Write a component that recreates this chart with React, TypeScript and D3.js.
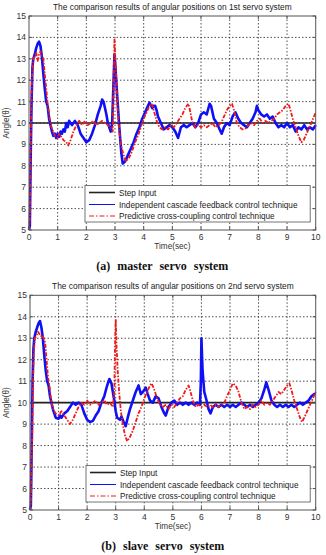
import React from "react";
import * as d3 from "d3";

// time (sec), angle pairs for each response curve
const masterBlue: number[][] = [
  [0, 5.0], [0.03, 5.2], [0.06, 8.5], [0.09, 11.0], [0.12, 12.6], [0.15, 13.0], [0.2, 13.2], [0.25, 13.5],
  [0.3, 13.7], [0.35, 13.8], [0.4, 13.6], [0.45, 13.1], [0.5, 12.3], [0.55, 11.6], [0.6, 11.0], [0.65, 10.8],
  [0.7, 10.2], [0.75, 9.9], [0.8, 9.6], [0.85, 9.4], [0.9, 9.5], [0.95, 9.3], [1.0, 9.5], [1.05, 9.35],
  [1.1, 9.6], [1.15, 9.5], [1.2, 9.7], [1.25, 9.6], [1.3, 10.0], [1.35, 9.8], [1.4, 10.1], [1.5, 9.9],
  [1.6, 10.1], [1.7, 9.9], [1.75, 9.7], [1.8, 9.5], [1.9, 9.3], [2.0, 9.1], [2.1, 9.2], [2.2, 9.5],
  [2.3, 9.9], [2.4, 10.4], [2.5, 10.8], [2.55, 11.1], [2.6, 11.0], [2.65, 10.7], [2.7, 10.4], [2.75, 10.0],
  [2.8, 9.8], [2.85, 9.6], [2.9, 10.0], [2.95, 12.0], [2.98, 13.2], [3.02, 12.5], [3.08, 11.2], [3.15, 9.8],
  [3.22, 8.6], [3.27, 8.1], [3.35, 8.2], [3.45, 8.5], [3.55, 8.8], [3.65, 9.1], [3.75, 9.5], [3.85, 9.8],
  [3.95, 10.2], [4.05, 10.5], [4.15, 10.8], [4.2, 10.95], [4.3, 10.7], [4.35, 10.8], [4.4, 10.8], [4.45, 10.6],
  [4.5, 10.3], [4.6, 10.0], [4.7, 9.7], [4.8, 9.8], [4.9, 9.9], [5.0, 9.8], [5.1, 9.6], [5.2, 9.3],
  [5.3, 9.8], [5.4, 9.9], [5.5, 9.8], [5.6, 9.9], [5.7, 10.0], [5.8, 9.8], [5.9, 10.0], [6.0, 10.4],
  [6.1, 10.5], [6.2, 10.4], [6.3, 10.9], [6.35, 10.8], [6.45, 10.2], [6.55, 10.0], [6.65, 9.7], [6.72, 9.5],
  [6.8, 9.8], [6.9, 10.0], [7.0, 9.9], [7.1, 10.3], [7.2, 10.5], [7.3, 10.2], [7.4, 10.0], [7.5, 9.9],
  [7.6, 9.8], [7.7, 10.0], [7.8, 10.2], [7.9, 10.5], [7.95, 10.8], [8.0, 10.6], [8.1, 10.4], [8.2, 10.3],
  [8.3, 10.4], [8.4, 10.2], [8.5, 10.3], [8.6, 10.0], [8.7, 9.8], [8.8, 9.9], [8.9, 9.8], [9.0, 10.0],
  [9.1, 9.8], [9.2, 9.9], [9.3, 9.6], [9.4, 9.8], [9.5, 9.7], [9.6, 9.9], [9.7, 9.7], [9.8, 9.8],
  [9.9, 9.7], [10.0, 9.9],
];

const masterRed: number[][] = [
  [0, 5.0], [0.03, 5.5], [0.06, 9.0], [0.1, 12.0], [0.15, 13.0], [0.2, 13.1], [0.25, 13.3], [0.3, 12.9],
  [0.35, 13.2], [0.4, 13.35], [0.45, 13.1], [0.5, 13.0], [0.55, 12.3], [0.6, 11.6], [0.65, 10.9], [0.7, 10.4],
  [0.75, 10.0], [0.8, 9.7], [0.85, 9.6], [0.9, 9.4], [1.0, 9.3], [1.05, 9.5], [1.1, 9.4], [1.2, 9.2],
  [1.3, 9.1], [1.37, 8.95], [1.45, 9.2], [1.55, 9.6], [1.65, 9.9], [1.75, 10.1], [1.85, 9.9], [1.95, 10.1],
  [2.05, 9.9], [2.15, 10.0], [2.25, 10.1], [2.35, 9.9], [2.45, 10.0], [2.55, 10.1], [2.65, 10.0], [2.75, 9.9],
  [2.85, 9.8], [2.92, 9.6], [2.96, 12.5], [2.98, 13.9], [3.02, 12.8], [3.07, 11.2], [3.12, 10.0], [3.2, 9.0],
  [3.3, 8.5], [3.38, 8.2], [3.5, 8.4], [3.6, 8.7], [3.7, 9.1], [3.8, 9.4], [3.9, 9.8], [4.0, 10.2],
  [4.1, 10.5], [4.2, 10.8], [4.28, 10.9], [4.35, 10.6], [4.45, 10.1], [4.55, 9.8], [4.65, 9.7], [4.75, 9.8],
  [4.85, 9.7], [4.95, 9.9], [5.05, 9.8], [5.15, 10.0], [5.25, 10.2], [5.35, 10.4], [5.45, 10.7], [5.56, 10.9],
  [5.63, 10.5], [5.7, 10.0], [5.8, 9.8], [5.9, 9.9], [6.0, 9.8], [6.1, 9.9], [6.2, 9.8], [6.3, 9.9],
  [6.4, 10.0], [6.5, 9.8], [6.6, 9.9], [6.7, 10.0], [6.8, 10.3], [6.9, 10.6], [7.0, 10.8], [7.08, 10.9],
  [7.15, 10.6], [7.25, 10.0], [7.35, 9.8], [7.45, 9.7], [7.55, 9.75], [7.65, 9.9], [7.75, 10.0], [7.85, 9.9],
  [7.95, 10.1], [8.05, 10.2], [8.15, 10.0], [8.25, 10.1], [8.35, 10.0], [8.45, 10.1], [8.55, 10.2], [8.65, 10.4],
  [8.75, 10.5], [8.85, 10.6], [8.95, 10.8], [9.05, 10.9], [9.12, 10.6], [9.2, 10.2], [9.3, 9.8], [9.4, 9.4],
  [9.5, 9.1], [9.58, 9.2], [9.68, 9.5], [9.78, 9.8], [9.88, 10.1], [10.0, 10.5],
];

const slaveBlue: number[][] = [
  [0, 5.0], [0.03, 5.2], [0.06, 8.0], [0.09, 11.0], [0.12, 12.5], [0.15, 13.0], [0.2, 13.3], [0.25, 13.5],
  [0.3, 13.7], [0.35, 13.8], [0.4, 13.5], [0.45, 13.0], [0.5, 12.2], [0.55, 11.5], [0.6, 11.0], [0.65, 10.8],
  [0.7, 10.3], [0.75, 10.0], [0.8, 9.7], [0.9, 9.3], [1.0, 9.25], [1.05, 9.4], [1.1, 9.3], [1.2, 9.5],
  [1.3, 9.6], [1.4, 9.8], [1.5, 10.0], [1.6, 9.9], [1.7, 10.0], [1.8, 9.9], [1.9, 9.5], [2.0, 9.2],
  [2.1, 9.1], [2.2, 9.15], [2.3, 9.4], [2.4, 9.6], [2.5, 10.0], [2.6, 10.3], [2.7, 10.8], [2.78, 11.1],
  [2.85, 10.9], [2.9, 10.5], [2.95, 10.1], [3.0, 9.6], [3.05, 9.3], [3.15, 9.2], [3.2, 9.35], [3.28, 9.1],
  [3.35, 8.9], [3.42, 9.3], [3.5, 9.7], [3.6, 10.1], [3.7, 10.5], [3.8, 10.8], [3.88, 10.4], [3.95, 10.5],
  [4.05, 10.7], [4.12, 10.4], [4.2, 10.1], [4.3, 10.0], [4.4, 10.3], [4.5, 10.2], [4.6, 9.8], [4.7, 9.5],
  [4.75, 9.4], [4.85, 9.8], [4.95, 10.0], [5.05, 10.1], [5.15, 9.9], [5.25, 10.0], [5.35, 9.9], [5.45, 10.0],
  [5.55, 9.9], [5.65, 10.0], [5.75, 9.9], [5.85, 10.0], [5.95, 9.9], [5.98, 11.0], [6.0, 13.0], [6.04, 11.5],
  [6.1, 10.5], [6.18, 10.1], [6.25, 9.7], [6.32, 9.5], [6.4, 9.8], [6.5, 9.9], [6.6, 9.8], [6.7, 9.9],
  [6.8, 9.8], [6.9, 9.9], [7.0, 9.8], [7.1, 9.9], [7.2, 9.8], [7.3, 9.9], [7.4, 10.0], [7.5, 9.9],
  [7.6, 9.8], [7.7, 9.9], [7.8, 9.8], [7.9, 9.9], [8.0, 10.0], [8.1, 10.2], [8.2, 10.6], [8.27, 10.95],
  [8.35, 10.6], [8.45, 10.1], [8.55, 9.9], [8.65, 9.8], [8.75, 9.9], [8.85, 9.8], [8.95, 9.9], [9.05, 9.8],
  [9.15, 9.9], [9.25, 9.8], [9.35, 9.9], [9.45, 10.0], [9.55, 9.9], [9.65, 10.0], [9.75, 10.1], [9.85, 10.3],
  [9.95, 10.4], [10.0, 10.4],
];

const slaveRed: number[][] = [
  [0, 5.0], [0.03, 5.3], [0.06, 7.3], [0.08, 8.5], [0.1, 10.5], [0.13, 12.3], [0.17, 13.0], [0.22, 13.1],
  [0.28, 13.3], [0.33, 13.2], [0.38, 13.1], [0.43, 13.15], [0.48, 13.0], [0.53, 12.8], [0.58, 12.0], [0.63, 11.2],
  [0.68, 10.8], [0.73, 10.2], [0.8, 9.7], [0.9, 9.5], [1.0, 9.4], [1.1, 9.6], [1.2, 9.4], [1.3, 9.2],
  [1.4, 9.0], [1.5, 9.2], [1.6, 9.5], [1.7, 9.8], [1.8, 10.0], [1.9, 9.9], [2.0, 10.1], [2.1, 9.9],
  [2.2, 10.0], [2.3, 10.1], [2.4, 9.9], [2.5, 10.0], [2.6, 10.1], [2.7, 9.9], [2.8, 10.0], [2.9, 9.8],
  [2.95, 10.5], [2.98, 13.0], [3.0, 13.9], [3.03, 12.6], [3.07, 11.5], [3.12, 10.5], [3.18, 9.6], [3.25, 9.0],
  [3.32, 8.5], [3.4, 8.2], [3.5, 8.4], [3.6, 8.7], [3.7, 9.1], [3.8, 9.5], [3.9, 9.8], [4.0, 10.2],
  [4.1, 10.5], [4.2, 10.8], [4.26, 10.9], [4.35, 10.6], [4.45, 10.2], [4.55, 9.9], [4.65, 9.8], [4.75, 9.9],
  [4.85, 9.7], [4.95, 9.9], [5.05, 9.8], [5.15, 10.0], [5.25, 10.2], [5.35, 10.3], [5.45, 10.6], [5.55, 10.8],
  [5.62, 10.5], [5.7, 10.1], [5.8, 9.8], [5.9, 9.9], [6.0, 9.8], [6.1, 9.9], [6.2, 9.8], [6.3, 9.9],
  [6.4, 9.8], [6.5, 9.9], [6.6, 9.8], [6.7, 9.9], [6.8, 10.0], [6.9, 10.3], [7.0, 10.6], [7.1, 10.9],
  [7.2, 10.8], [7.3, 10.5], [7.4, 10.0], [7.5, 9.7], [7.6, 9.8], [7.7, 9.7], [7.8, 9.9], [7.9, 9.8],
  [8.0, 9.9], [8.1, 10.1], [8.2, 9.9], [8.3, 10.0], [8.4, 9.9], [8.5, 10.1], [8.6, 10.3], [8.7, 10.5],
  [8.8, 10.4], [8.9, 10.6], [9.0, 10.8], [9.08, 10.9], [9.15, 10.6], [9.25, 10.1], [9.35, 9.7], [9.45, 9.3],
  [9.52, 9.1], [9.6, 9.3], [9.7, 9.6], [9.8, 9.9], [9.9, 10.2], [10.0, 10.5],
];

const stepInput: number[][] = [[0, 10], [10, 10]];

const xTicks = [0, 1, 2, 3, 4, 5, 6, 7, 8, 9, 10];
const yTicks = [5, 6, 7, 8, 9, 10, 11, 12, 13, 14, 15];
const legendLabels = [
  "Step Input",
  "Independent cascade feedback control technique",
  "Predictive cross-coupling control technique",
];

const FONT = "'Liberation Sans', Arial, sans-serif";
const BLUE = "#1010f5";
const RED = "#f01818";
const DASHDOT = "4,1.5,1.5,1.5";

type PanelProps = {
  top: number;
  left: number;
  right: number;
  bottom: number;
  title: string;
  caption: string;
  blue: number[][];
  red: number[][];
};

function Panel({ top, left, right, bottom, title, caption, blue, red }: PanelProps) {
  const x = d3.scaleLinear().domain([0, 10]).range([left, right]);
  const y = d3.scaleLinear().domain([5, 15]).range([bottom, top]);
  const line = d3
    .line<number[]>()
    .x((d) => x(d[0]))
    .y((d) => y(d[1]));

  const cx = (left + right) / 2;
  const legTop = bottom - 44.5;
  const legLeft = left + 56;
  const rows = [legTop + 7, legTop + 19, legTop + 30.5];

  return (
    <g>
      <text x={cx} y={top - 6.5} textAnchor="middle" fontFamily={FONT} fontSize={8.4} fill="#222">
        {title}
      </text>
      <rect x={left} y={top} width={right - left} height={bottom - top} fill="#fff" />

      {/* dotted grid */}
      {xTicks.slice(1, -1).map((t) => (
        <line key={"gx" + t} x1={x(t)} x2={x(t)} y1={top} y2={bottom}
          stroke="#222" strokeWidth={0.8} strokeDasharray="1.5,2" />
      ))}
      {yTicks.slice(1, -1).map((t) => (
        <line key={"gy" + t} x1={left} x2={right} y1={y(t)} y2={y(t)}
          stroke="#222" strokeWidth={0.8} strokeDasharray="1.5,2" />
      ))}

      {/* curves */}
      <path d={line(stepInput) ?? ""} fill="none" stroke="#222" strokeWidth={1.6} />
      <path d={line(blue) ?? ""} fill="none" stroke={BLUE} strokeWidth={2.6} strokeLinejoin="round" />
      <path d={line(red) ?? ""} fill="none" stroke={RED} strokeWidth={1.8}
        strokeDasharray={DASHDOT} strokeLinejoin="round" />

      {/* axes frame and inward ticks */}
      <rect x={left} y={top} width={right - left} height={bottom - top} fill="none" stroke="#555" strokeWidth={1} />
      {xTicks.map((t) => (
        <g key={"tx" + t}>
          <line x1={x(t)} x2={x(t)} y1={bottom} y2={bottom - 3} stroke="#555" />
          <line x1={x(t)} x2={x(t)} y1={top} y2={top + 3} stroke="#555" />
          <text x={x(t)} y={bottom + 9.5} textAnchor="middle" fontFamily={FONT} fontSize={8.5} fill="#333">
            {t}
          </text>
        </g>
      ))}
      {yTicks.map((t) => (
        <g key={"ty" + t}>
          <line x1={left} x2={left + 3} y1={y(t)} y2={y(t)} stroke="#555" />
          <line x1={right} x2={right - 3} y1={y(t)} y2={y(t)} stroke="#555" />
          <text x={left - 3} y={y(t) + 3} textAnchor="end" fontFamily={FONT} fontSize={8.5} fill="#333">
            {t}
          </text>
        </g>
      ))}

      <text x={cx} y={bottom + 19} textAnchor="middle" fontFamily={FONT} fontSize={8.2} fill="#333">
        Time(sec)
      </text>
      <text transform={`translate(9,${(top + bottom) / 2}) rotate(-90)`} textAnchor="middle"
        fontFamily={FONT} fontSize={8.2} fill="#333">
        Angle(θ)
      </text>

      {/* legend */}
      <rect x={legLeft} y={legTop} width={right - 5.5 - legLeft} height={36.5} fill="#fff" stroke="#666" strokeWidth={0.9} />
      <line x1={legLeft + 4} x2={legLeft + 30} y1={rows[0]} y2={rows[0]} stroke="#222" strokeWidth={1.6} />
      <line x1={legLeft + 4} x2={legLeft + 30} y1={rows[1]} y2={rows[1]} stroke={BLUE} strokeWidth={1} />
      <line x1={legLeft + 4} x2={legLeft + 30} y1={rows[2]} y2={rows[2]} stroke={RED} strokeWidth={1}
        strokeDasharray="5,2,1.5,2" />
      {legendLabels.map((s, i) => (
        <text key={s} x={legLeft + 34} y={rows[i] + 3} fontFamily={FONT} fontSize={8.2} fill="#222">
          {s}
        </text>
      ))}

      <text x={cx - 10} y={bottom + 39.5} textAnchor="middle" fontFamily="'Liberation Serif', 'Times New Roman', serif"
        fontWeight="bold" fontSize={12} wordSpacing={4} fill="#111">
        {caption}
      </text>
    </g>
  );
}

export default function App() {
  return (
    <svg width={326} height={555} style={{ position: "absolute", left: 0, top: 0, background: "#fff" }}>
      <Panel top={16} left={29} right={315.7} bottom={230}
        title="The comparison results of angular positions on 1st servo system"
        caption="(a) master servo system" blue={masterBlue} red={masterRed} />
      <Panel top={295.3} left={30} right={315.7} bottom={510}
        title="The comparison results of angular positions on 2nd servo system"
        caption="(b) slave servo system" blue={slaveBlue} red={slaveRed} />
    </svg>
  );
}
